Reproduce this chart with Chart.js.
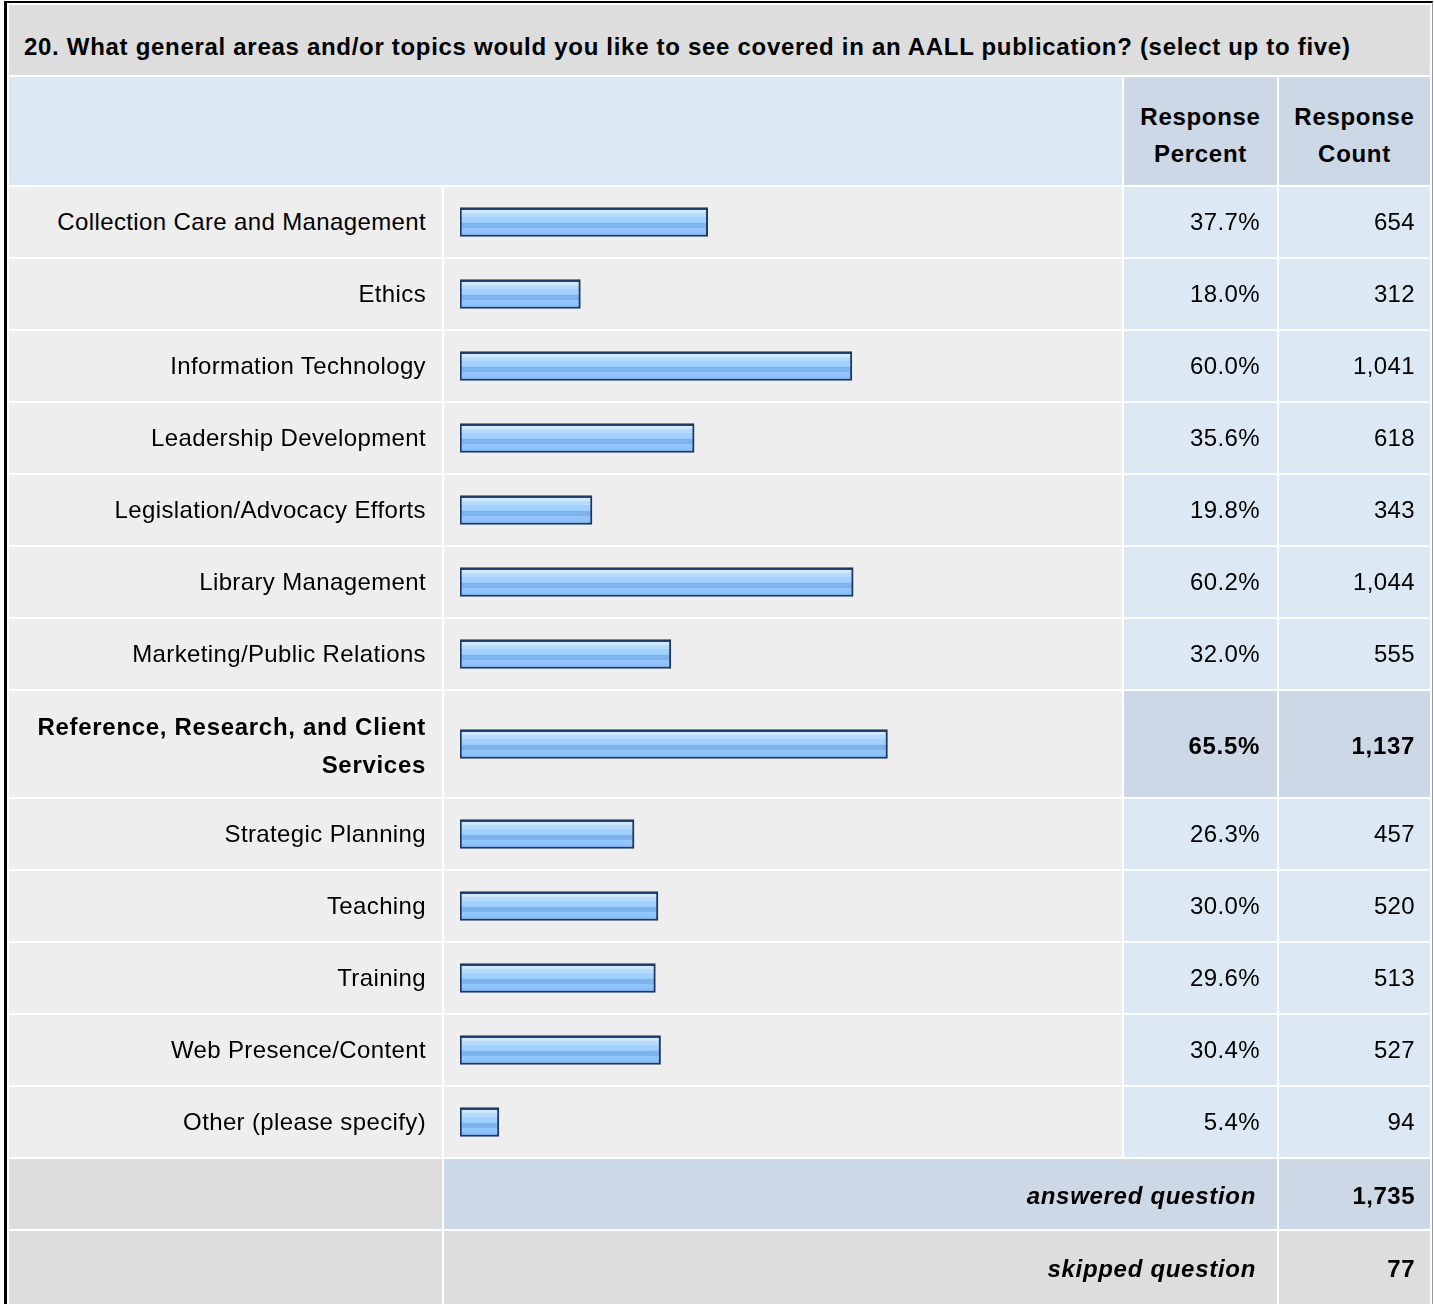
<!DOCTYPE html>
<html>
<head>
<meta charset="utf-8">
<script src="https://cdn.jsdelivr.net/npm/chart.js@4"></script>
<style>
  html, body { margin: 0; padding: 0; background: #fff; }
  body { width: 1434px; height: 1304px; overflow: hidden; position: relative; font-family: "Liberation Sans", Arial, sans-serif; color: #000; }
  #frame { position: absolute; left: 4px; top: 1px; width: 1425px; border-left: 3px solid #000; border-top: 2px solid #000; border-right: 1px solid #999; height: 1400px; }
  table { table-layout: fixed; border-collapse: separate; border-spacing: 2px; width: 1425px; background: #fff; }
  td { padding: 0; vertical-align: middle; }
  .title { background: #dddddd; height: 57px; padding-top: 13px; font-weight: bold; font-size: 24px; padding-left: 15px; letter-spacing: 0.7px; white-space: nowrap; }
  .hdr { background: #dde8f5; height: 100px; padding-top: 8px; }
  .hdrc { background: #ccd8e6; font-weight: bold; font-size: 24px; text-align: center; line-height: 37px; letter-spacing: 0.7px; }
  .lab { background: #eeeeee; text-align: right; padding-right: 16px; padding-left: 16px; font-size: 24px; line-height: 38px; letter-spacing: 0.37px; }
  .bar { background: #eeeeee; }
  .num { background: #dde8f5; text-align: right; padding-right: 17px; font-size: 24px; letter-spacing: 0.37px; }
  .num.cnt { padding-right: 15px; }
  .hi .lab, .hi .num { font-weight: bold; letter-spacing: 0.7px; padding-top: 4px; }
  .hi .num { background: #ccd8e6; }
  .sumlab { text-align: right; padding-right: 21px; font-weight: bold; font-style: italic; font-size: 24px; letter-spacing: 0.7px; }
  .sumnum { text-align: right; padding-right: 15px; font-weight: bold; font-size: 24px; letter-spacing: 0.5px; }
  canvas { display: block; }
</style>
</head>
<body>
<div id="frame">
  <table id="tbl">
    <colgroup><col style="width:433px"><col style="width:678px"><col style="width:153px"><col style="width:151px"></colgroup>
    <tbody id="tb"></tbody>
  </table>
</div>
<script>
const questionTitle = "20. What general areas and/or topics would you like to see covered in an AALL publication? (select up to five)";
const headerPercent = ["Response", "Percent"];
const headerCount = ["Response", "Count"];
const categories = [
  "Collection Care and Management",
  "Ethics",
  "Information Technology",
  "Leadership Development",
  "Legislation/Advocacy Efforts",
  "Library Management",
  "Marketing/Public Relations",
  "Reference, Research, and Client Services",
  "Strategic Planning",
  "Teaching",
  "Training",
  "Web Presence/Content",
  "Other (please specify)"
];
const percents = [37.7, 18.0, 60.0, 35.6, 19.8, 60.2, 32.0, 65.5, 26.3, 30.0, 29.6, 30.4, 5.4];
const counts = [654, 312, 1041, 618, 343, 1044, 555, 1137, 457, 520, 513, 527, 94];
const summaryLabels = ["answered question", "skipped question"];
const summaryValues = [1735, 77];

const fmtCount = v => v.toLocaleString("en-US");
const fmtPct = v => v.toFixed(1) + "%";
const maxIdx = percents.indexOf(Math.max(...percents));

const tb = document.getElementById("tb");
function el(tag, cls, html) { const e = document.createElement(tag); if (cls) e.className = cls; if (html !== undefined) e.innerHTML = html; return e; }

// title row
let tr = el("tr"); let td = el("td", "title", questionTitle); td.colSpan = 4; tr.appendChild(td); tb.appendChild(tr);
// header row
tr = el("tr"); td = el("td", "hdr"); td.colSpan = 2; tr.appendChild(td);
tr.appendChild(el("td", "hdr hdrc", headerPercent.join("<br>")));
tr.appendChild(el("td", "hdr hdrc", headerCount.join("<br>")));
tb.appendChild(tr);

const canvases = [];
categories.forEach((c, i) => {
  const hi = i === maxIdx;
  const row = el("tr", hi ? "hi" : "");
  const h = hi ? 106 : 70;
  const l = el("td", "lab", c); l.style.height = (hi ? h - 4 : h) + "px"; row.appendChild(l);
  const b = el("td", "bar");
  const cv = document.createElement("canvas"); cv.width = 678; cv.height = h; cv.style.width = "678px"; cv.style.height = h + "px";
  b.appendChild(cv); row.appendChild(b);
  row.appendChild(el("td", "num", fmtPct(percents[i])));
  row.appendChild(el("td", "num cnt", fmtCount(counts[i])));
  tb.appendChild(row);
  canvases.push(cv);
});

// summary rows
summaryLabels.forEach((s, k) => {
  const row = el("tr");
  const bg = k === 0 ? "#ccd8e6" : "#dddddd";
  const a = el("td"); a.style.background = "#dddddd"; a.style.height = (k === 0 ? 66 : 76) + "px"; if (k === 0) a.style.paddingTop = "4px"; row.appendChild(a);
  const m = el("td", "sumlab", s); m.colSpan = 2; m.style.background = bg; if (k === 0) m.style.paddingTop = "4px"; row.appendChild(m);
  const n = el("td", "sumnum", fmtCount(summaryValues[k])); n.style.background = bg; if (k === 0) n.style.paddingTop = "4px"; row.appendChild(n);
  tb.appendChild(row);
});

function barFill(ctx) {
  const chart = ctx.chart; const ca = chart.chartArea;
  if (!ca) return "#99ccff";
  const yc = (ca.top + ca.bottom) / 2, top = yc - 14.5, bot = yc + 14.5;
  const g = chart.ctx.createLinearGradient(0, top, 0, bot);
  const bands = [[0, "#1e3a60"], [0.07, "#cfe7ff"], [0.2, "#b5dbff"], [0.33, "#a2d1ff"], [0.5, "#9ccbff"], [0.55, "#7fb3ee"], [0.72, "#92c6fb"], [0.85, "#8ac0ff"], [1, "#8ac0ff"]];
  for (let j = 0; j < bands.length; j++) {
    g.addColorStop(bands[j][0], bands[j][1]);
    if (j + 1 < bands.length) g.addColorStop(Math.max(bands[j][0], bands[j + 1][0] - 0.0001), bands[j][1]);
  }
  return g;
}

const barBase = -0.62; // bars have a small minimum length in the original
canvases.forEach((cv, i) => {
  new Chart(cv, {
    type: "bar",
    data: { labels: [categories[i]], datasets: [{ data: [percents[i]], base: barBase, backgroundColor: barFill, borderColor: "#1e3a60", borderWidth: 2, borderSkipped: false, barThickness: 29 }] },
    options: {
      indexAxis: "y", responsive: false, animation: false, devicePixelRatio: 1,
      layout: { padding: { left: 16, right: 11.5, top: 0, bottom: 0 } },
      plugins: { legend: { display: false }, tooltip: { enabled: false } },
      scales: { x: { display: false, min: barBase, max: 100 }, y: { display: false } }
    }
  });
});
</script>
</body>
</html>
